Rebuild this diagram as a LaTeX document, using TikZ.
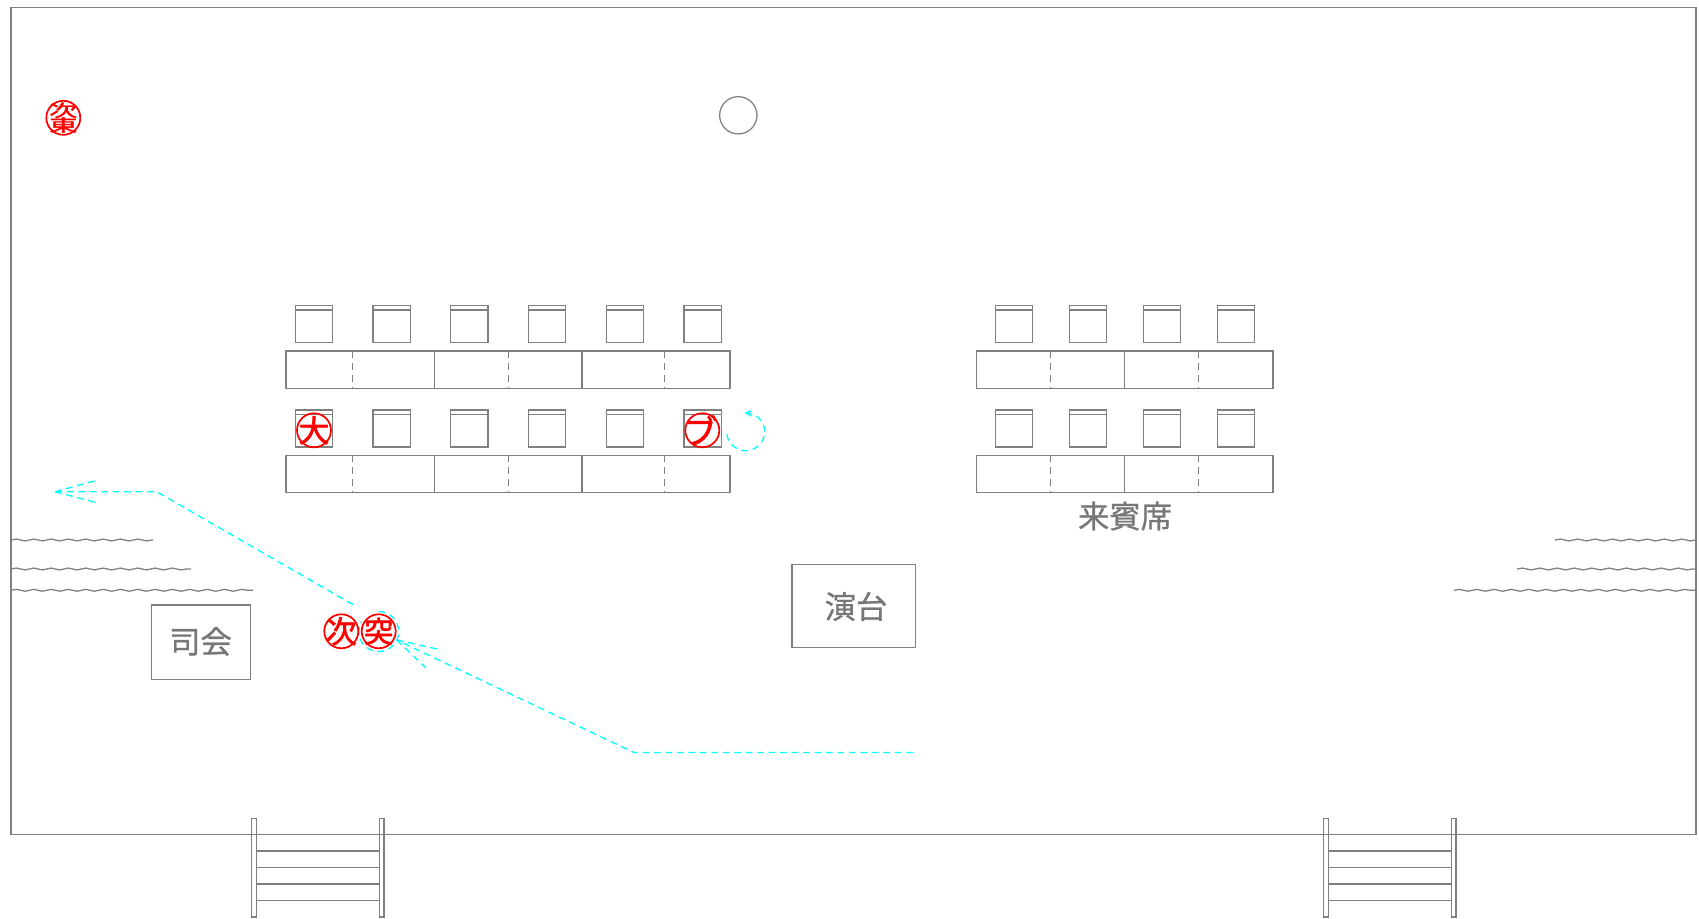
\documentclass[tikz,border=0pt]{standalone}
\usepackage{fontspec}
\setmainfont{Noto Sans CJK JP}
\newfontfamily\stampfont[FakeBold=2]{Noto Sans CJK JP}
\newfontfamily\halltextfont[FakeBold=0.8]{Noto Sans CJK JP}
\usetikzlibrary{decorations.pathmorphing}
\definecolor{linegray}{HTML}{808080}
\definecolor{textgray}{HTML}{777777}
\definecolor{routecyan}{HTML}{00FFFF}
\tikzset{
  x=0.75pt,y=-0.75pt,
  outline/.style={draw=linegray,line width=0.95pt},
  seamdash/.style={draw=linegray,line width=0.9pt,dash pattern=on 5pt off 4pt},
  wavy/.style={draw=linegray,line width=0.95pt,decorate,decoration={snake,segment length=13pt,amplitude=0.7pt}},
  route/.style={draw=routecyan,line width=1pt,dash pattern=on 5pt off 3.6pt},
  stamp/.style={circle,draw=red,line width=1.3pt,minimum size=25.5pt,inner sep=0pt},
  stamptext/.style={inner sep=0pt,text=red,font=\stampfont\fontsize{#1}{#1}\selectfont},
  stamprow/.style={inner sep=0pt,text=red,font=\stampfont\fontsize{21}{21}\selectfont,yscale=0.6,transform shape},
  hallbox/.style={outline,rectangle,inner sep=0pt,anchor=north west},
  halltext/.style={text=textgray,font=\halltextfont\fontsize{23.5}{25}\selectfont},
}
\newcommand{\chairbox}[2]{%
  \draw[outline] (#1,#2) rectangle ++(37.3,37);
  \draw[outline] (#1,#2+4.4) -- ++(37.3,0);
}
\newcommand{\deskbar}[3]{% left, top, right
  \draw[outline] (#1,#2) rectangle (#3,#2+37.2);
}
\begin{document}
\begin{tikzpicture}
\useasboundingbox (0,0) rectangle (1699,919);
% hall
\draw[outline] (11,7.5) rectangle (1696,834.7);
% stairs
\foreach \sx/\ex in {251.7/379.3,1323.3/1451.3}{
  \draw[outline] (\sx,818.7) rectangle (\sx+5,917);
  \draw[outline] (\ex,818.7) rectangle (\ex+4.7,917);
  \foreach \yy in {851,867.5,884,900.5}
    \draw[outline] (\sx+5,\yy) -- (\ex,\yy);
}
% left block
\foreach \top/\dtop in {305.5/351,410/455.5}{
  \foreach \i in {0,...,5}
    \chairbox{295.3+77.75*\i}{\top}
  \deskbar{286}{\dtop}{730}
  \foreach \xx in {434.3,582}
    \draw[outline] (\xx,\dtop) -- (\xx,\dtop+37.2);
  \foreach \xx in {352.5,508.2,664.2}
    \draw[seamdash] (\xx,\dtop) -- (\xx,\dtop+37.2);
}
% right block
\foreach \top/\dtop in {305.5/351,410/455.5}{
  \foreach \xx in {995.2,1069.2,1143.2,1217.2}
    \chairbox{\xx}{\top}
  \deskbar{976.3}{\dtop}{1273}
  \draw[outline] (1124.7,\dtop) -- (1124.7,\dtop+37.2);
  \foreach \xx in {1050.5,1198.3}
    \draw[seamdash] (\xx,\dtop) -- (\xx,\dtop+37.2);
}
% top mark
\node[outline,circle,minimum size=28pt,inner sep=0pt] (mark) at (738.3,115.3) {};
% boxes and labels
\node[hallbox,minimum width=73.9pt,minimum height=56pt] (mc) at (151.2,604.4) {};
\node[halltext] (mclabel) at (200.5,641.5) {司会};
\node[hallbox,minimum width=92.6pt,minimum height=61.9pt] (podium) at (791.3,564) {};
\node[halltext] (podiumlabel) at (856,606.5) {演台};
\node[halltext] (guest) at (1125,516) {来賓席};
% waves
\draw[wavy] (11,540) -- (153,540);
\draw[wavy] (11,569) -- (191,569);
\draw[wavy] (11,590.3) -- (253,590.3);
\draw[wavy] (1555,540) -- (1696,540);
\draw[wavy] (1517,569) -- (1696,569);
\draw[wavy] (1454,590.3) -- (1696,590.3);
% routes
\coordinate (r1s) at (353,604.6);
\coordinate (r1k) at (156.7,491.7);
\coordinate (r1t) at (55,491.7);
\coordinate (r1a) at (96,480.5);
\coordinate (r1b) at (96,502.5);
\draw[route] (r1s) -- (r1k) -- (r1t);
\draw[route] (r1t) -- (r1a);
\draw[route] (r1t) -- (r1b);
\coordinate (r2s) at (913,752.5);
\coordinate (r2k) at (634,752.5);
\coordinate (r2t) at (396.7,640);
\coordinate (r2a) at (437,649);
\coordinate (r2b) at (426,668);
\draw[route] (r2s) -- (r2k) -- (r2t);
\draw[route] (r2t) -- (r2a);
\draw[route] (r2t) -- (r2b);
% turn circles
\draw[route] (745.7,412.7) arc[start angle=-90,delta angle=270,radius=19];
\draw[route] (745.7,412.7) -- (751,411);
\draw[route] (745.7,412.7) -- (752,416.5);
\draw[route] (378.7,611.5) arc[start angle=-90,delta angle=300,radius=20];
% stamps
\node[stamp] (s1) at (63.3,117.8) {};
\node[stamprow] (s1top) at (63.3,110.3) {次};
\node[stamprow] (s1bot) at (63.3,125) {東};
\node[stamp] (s2) at (314,430.3) {};
\node[stamptext=23] (s2t) at (s2.center) {大};
\node[stamp] (s3) at (702.3,430.3) {};
\node[stamptext=25] (s3t) at (700.8,430.3) {ブ};
\node[stamp] (s4) at (341.3,631.3) {};
\node[stamptext=23] (s4t) at (s4.center) {次};
\node[stamp] (s5) at (378.7,631.3) {};
\node[stamptext=22] (s5t) at (s5.center) {突};
\end{tikzpicture}
\end{document}
